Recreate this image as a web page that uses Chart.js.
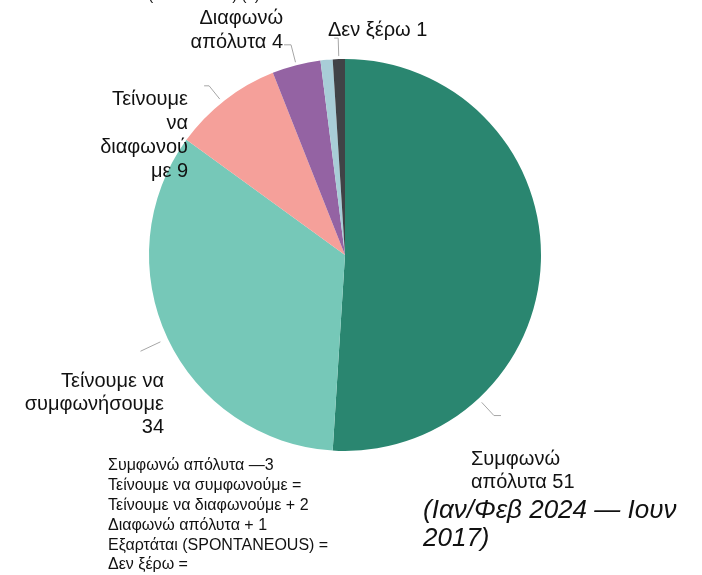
<!DOCTYPE html>
<html>
<head>
<meta charset="utf-8">
<script src="https://cdn.jsdelivr.net/npm/chart.js@4"></script>
<style>
  html, body { margin: 0; padding: 0; background: #fff; }
  #wrap { width: 702px; height: 575px; position: relative; }
</style>
</head>
<body>
<div id="wrap"><canvas id="pieChart"></canvas></div>
<script>
// data
const categories = ['Συμφωνώ απόλυτα', 'Τείνουμε να συμφωνήσουμε', 'Τείνουμε να διαφωνούμε', 'Διαφωνώ απόλυτα', 'Εξαρτάται (SPONTANEOUS)', 'Δεν ξέρω'];
const values = [51, 34, 9, 4, 1, 1];
const sliceLabels = [
    ['Συμφωνώ', 'απόλυτα 51'],
    ['Τείνουμε να', 'συμφωνήσουμε', '34'],
    ['Τείνουμε', 'να', 'διαφωνού', 'με 9'],
    ['Διαφωνώ', 'απόλυτα 4'],
    ['(ΕΞΑΡΤΑΤΑΙ) (1)'],
    ['Δεν ξέρω 1']
];
const changeNotes = ['Συμφωνώ απόλυτα —3', 'Τείνουμε να συμφωνούμε =', 'Τείνουμε να διαφωνούμε + 2', 'Διαφωνώ απόλυτα + 1', 'Εξαρτάται (SPONTANEOUS) =', 'Δεν ξέρω ='];
const periodNote = ['(Ιαν/Φεβ 2024 — Ιουν', '2017)'];

const colors = ['#2a8670', '#76c8b8', '#f5a09a', '#9463a3', '#a8cdd7', '#404246'];
const FONT = '"Liberation Sans", Arial, sans-serif';

// where each label sits and how its leader line bends
const labelLayout = [
    { x: 471, y: 459, align: 'left', lh: 23, size: 20, at: 0.747, r1: 5, r2: 23, hx: 7 },
    { x: 164, y: 381, align: 'right', lh: 23, size: 20, at: 0.5, r1: 8, r2: 30, hx: 0 },
    { x: 188, y: 99, align: 'right', lh: 24, size: 20, at: 0.47, r1: 4, r2: 21, hx: -5 },
    { x: 283, y: 18, align: 'right', lh: 24, size: 20, at: 0.5, r1: 3, r2: 21, hx: -7 },
    { x: 204, y: -4, align: 'center', lh: 20, size: 15, at: 0.5, noLine: true },
    { x: 328, y: 30, align: 'left', lh: 24, size: 20, at: 0.5, r1: 3, r2: 21, hx: -4 }
];

const labelPlugin = {
    id: 'sliceLabels',
    afterDraw(chart) {
        const c = chart.ctx;
        const arcs = chart.getDatasetMeta(0).data;
        c.save();
        arcs.forEach((arc, i) => {
            const L = labelLayout[i];
            const p = arc.getProps(['x', 'y', 'startAngle', 'endAngle', 'outerRadius'], true);
            if (!L.noLine) {
                const a = p.startAngle + (p.endAngle - p.startAngle) * L.at;
                const r1 = p.outerRadius + L.r1, r2 = p.outerRadius + L.r2;
                const x2 = p.x + Math.cos(a) * r2, y2 = p.y + Math.sin(a) * r2;
                c.strokeStyle = '#a6a6a6';
                c.lineWidth = 1;
                c.beginPath();
                c.moveTo(p.x + Math.cos(a) * r1, p.y + Math.sin(a) * r1);
                c.lineTo(x2, y2);
                c.lineTo(x2 + L.hx, y2);
                c.stroke();
            }
            c.fillStyle = '#111';
            c.font = L.size + 'px ' + FONT;
            c.textAlign = L.align;
            c.textBaseline = 'middle';
            sliceLabels[i].forEach((t, k) => c.fillText(t, L.x, L.y + k * L.lh));
        });

        // change notes block
        c.font = '16px ' + FONT;
        c.textAlign = 'left';
        c.fillStyle = '#111';
        changeNotes.forEach((t, k) => c.fillText(t, 108, 466 + k * 19.8));

        // period note
        c.font = 'italic 26px ' + FONT;
        periodNote.forEach((t, k) => c.fillText(t, 423, 511 + k * 28));
        c.restore();
    }
};

new Chart(document.getElementById('pieChart').getContext('2d'), {
    type: 'pie',
    data: {
        labels: categories,
        datasets: [{
            data: values,
            backgroundColor: colors,
            borderWidth: 0,
            hoverOffset: 0
        }]
    },
    options: {
        responsive: true,
        maintainAspectRatio: false,
        animation: false,
        events: [],
        layout: { padding: { left: 149, right: 161, top: 59, bottom: 124 } },
        plugins: {
            legend: { display: false },
            tooltip: { enabled: false }
        }
    },
    plugins: [labelPlugin]
});
</script>
</body>
</html>
